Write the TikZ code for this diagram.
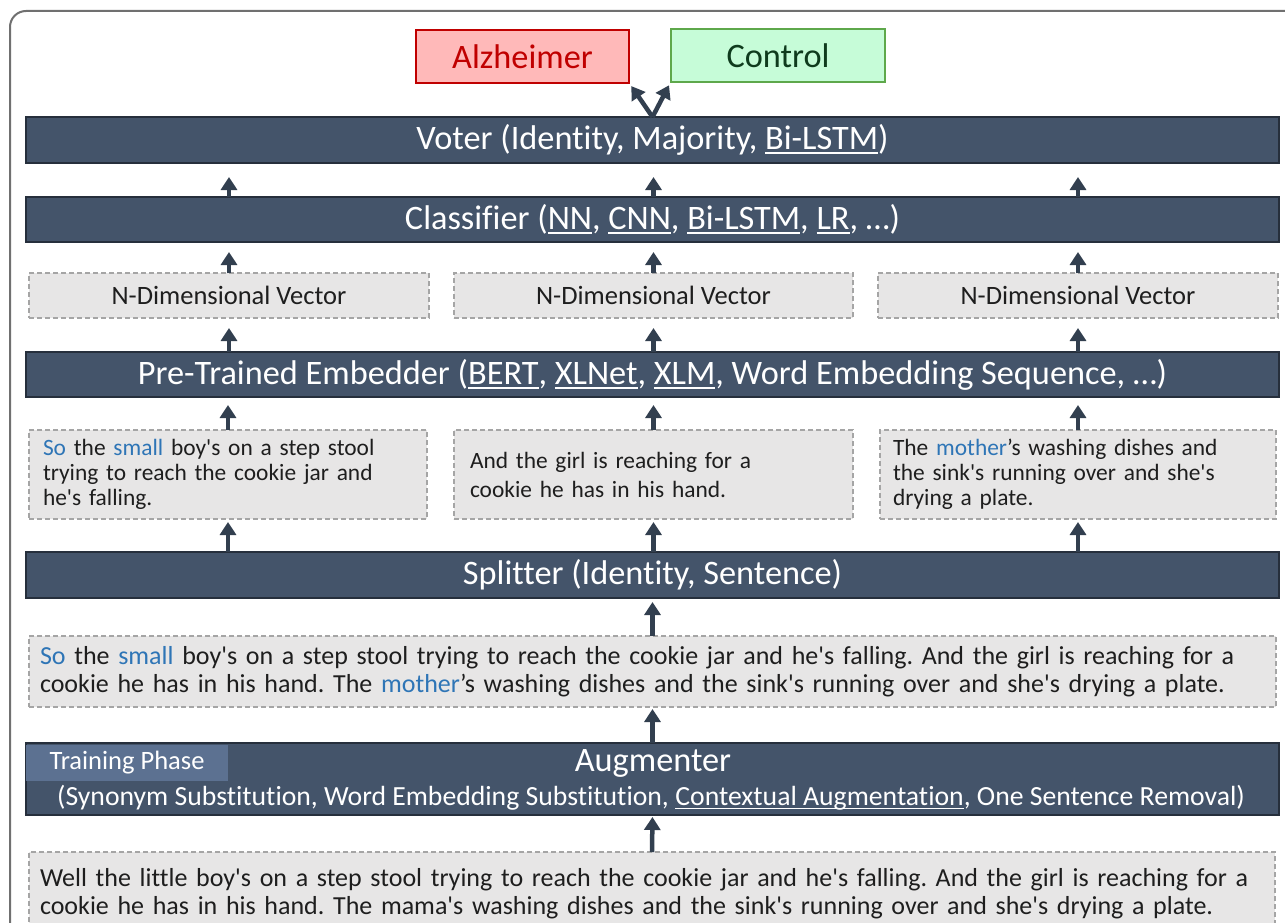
\documentclass[tikz,border=0pt]{standalone}
\usepackage{fontspec}
\setmainfont{Carlito}[Ligatures={TeXOff,NoCommon}]
\usetikzlibrary{arrows.meta}
\definecolor{dark}{HTML}{44546A}
\definecolor{darkb}{HTML}{262F3C}
\definecolor{arrc}{HTML}{323F4F}
\definecolor{dbox}{HTML}{E7E6E6}
\definecolor{dline}{HTML}{A5A5A5}
\definecolor{blu}{HTML}{2E75B6}
\definecolor{txt}{HTML}{1E1E1E}
\definecolor{alzf}{HTML}{FFB9B9}
\definecolor{alzd}{HTML}{C00000}
\definecolor{ctlf}{HTML}{C6FCD8}
\definecolor{ctld}{HTML}{5EA84B}
\definecolor{ctlt}{HTML}{0F3B1D}
\definecolor{tpc}{HTML}{5C7191}
\definecolor{frm}{HTML}{707070}
\frenchspacing
\newcommand\fsz[2]{\fontsize{#1}{#2}\selectfont}
\newcommand\bl[1]{\textcolor{blu}{#1}}
\newcommand\undl[1]{\leavevmode\setbox0\hbox{#1}\rlap{\rule[-0.13em]{\wd0}{0.06em}}\box0}
\tikzset{
  darkbox/.style={draw=darkb, line width=1.5pt, fill=dark, text=white, minimum width=1253pt, inner sep=0pt, outer sep=0pt},
  dashbox/.style={draw=dline, dash pattern=on 5pt off 3pt, line width=1.3pt, fill=dbox, text=txt, inner ysep=0pt, outer sep=0pt, align=left},
  arr/.style={draw=arrc, line width=4.5pt, -{Triangle[width=16pt,length=13pt]}},
  bigfont/.style={font={\frenchspacing\fsz{34.3}{38}}},
  smallfont/.style={font={\frenchspacing\fsz{23.4}{25}}},
  widefont/.style={font={\frenchspacing\fsz{26}{28.5}}},
}
\begin{document}
\begin{tikzpicture}[x=1pt,y=-1pt]
\useasboundingbox (0,0) rectangle (1285,923);
\clip (0,0) rectangle (1285,923);
\fill[white] (0,0) rectangle (1285,923);
\draw[frm, line width=2pt, rounded corners=16pt] (1300,11) -- (10,11) -- (10,940);

% outputs
\node[draw=alzd, line width=1.2pt, fill=alzf, text=alzd, minimum width=213pt, minimum height=53pt, inner sep=0pt, bigfont] (alz) at (522.5,56.5) {Alzheimer};
\node[draw=ctld, line width=1.2pt, fill=ctlf, text=ctlt, minimum width=214pt, minimum height=53pt, inner sep=0pt, bigfont] (ctl) at (778,55.5) {Control};

% main layers
\node[darkbox, minimum height=46pt, bigfont] (voter) at (652.5,140) {Voter (Identity, Majority, \undl{Bi-LSTM})};
\node[darkbox, minimum height=45pt, bigfont] (cls) at (652.5,219.5) {Classifier (\undl{NN}, \undl{CNN}, \undl{Bi-LSTM}, \undl{LR}, …)};

\node[dashbox, minimum width=400pt, minimum height=45pt, inner xsep=0pt, font=\fsz{26.5}{28}] (nd1) at (229,295.5) {N-Dimensional Vector};
\node[dashbox, minimum width=399pt, minimum height=45pt, inner xsep=0pt, font=\fsz{26.5}{28}] (nd2) at (653.5,295.5) {N-Dimensional Vector};
\node[dashbox, minimum width=400pt, minimum height=45pt, inner xsep=0pt, font=\fsz{26.5}{28}] (nd3) at (1078,295.5) {N-Dimensional Vector};

\node[darkbox, minimum height=45pt, bigfont] (emb) at (652.5,374.5) {Pre-Trained Embedder (\undl{BERT}, \undl{XLNet}, \undl{XLM}, Word Embedding Sequence, …)};

\node[dashbox, minimum height=89pt, inner xsep=14pt, text width=370pt, smallfont] (s1) at (228,474.5)
  {\bl{So} the \bl{small} boy's on a step stool\\trying to reach the cookie jar and\\he's falling.};
\node[dashbox, minimum height=89pt, inner xsep=16pt, text width=367pt, font=\fsz{23.4}{29}] (s2) at (653.5,474.5)
  {And the girl is reaching for a\\cookie he has in his hand.};
\node[dashbox, minimum height=89pt, inner xsep=13pt, text width=370pt, smallfont] (s3) at (1078,474.5)
  {The \bl{mother}’s washing dishes and\\the sink's running over and she's\\drying a plate.};

\node[darkbox, minimum height=46pt, bigfont] (spl) at (652.5,575) {Splitter (Identity, Sentence)};

\node[dashbox, minimum height=71pt, inner xsep=11pt, text width=1225pt, widefont] (full) at (652.5,671.5)
  {\bl{So} the \bl{small} boy's on a step stool trying to reach the cookie jar and he's falling. And the girl is reaching for a\\cookie he has in his hand. The \bl{mother}’s washing dishes and the sink's running over and she's drying a plate.};

\node[darkbox, minimum height=72pt] (aug) at (652.5,779) {};
\node[fill=tpc, text=white, minimum width=202pt, minimum height=36pt, inner sep=0pt, font=\fsz{26.5}{28}] (tp) at (127,763) {Training Phase};
\node[text=white, inner sep=0pt, bigfont] (augt) at (653,763) {Augmenter};
\node[text=white, inner sep=0pt, font=\fsz{27.7}{30}] (augs) at (651,798) {(Synonym Substitution, Word Embedding Substitution, \undl{Contextual Augmentation}, One Sentence Removal)};

\node[dashbox, minimum height=83pt, inner xsep=11pt, text width=1224pt, widefont] (bot) at (652,893.5)
  {Well the little boy's on a step stool trying to reach the cookie jar and he's falling. And the girl is reaching for a\\cookie he has in his hand. The mama's washing dishes and the sink's running over and she's drying a plate.};

% connectors
\draw[arr, shorten >=3pt] (voter.north) -- (alz.south east);
\draw[arr, shorten >=3pt] (voter.north) -- (ctl.south west);
\foreach \c in {nd1,nd2,nd3}{
  \draw[arr, shorten >=14pt] (cls.north -| \c.north) -- (voter.south -| \c.north);
  \draw[arr, shorten >=10pt] (\c.north) -- (cls.south -| \c.north);
  \draw[arr, shorten >=10pt] (emb.north -| \c.south) -- (\c.south);
}
\foreach \c in {s1,s2,s3}{
  \draw[arr, shorten >=8pt] (\c.north) -- (emb.south -| \c.north);
  \draw[arr, shorten >=3pt] (spl.north -| \c.south) -- (\c.south);
}
\draw[arr, shorten >=4pt] (full.north) -- (spl.south);
\draw[arr, shorten >=2pt] (aug.north) -- (full.south);
\draw[arr, shorten >=2pt] (bot.north) -- (aug.south);
\end{tikzpicture}
\end{document}
